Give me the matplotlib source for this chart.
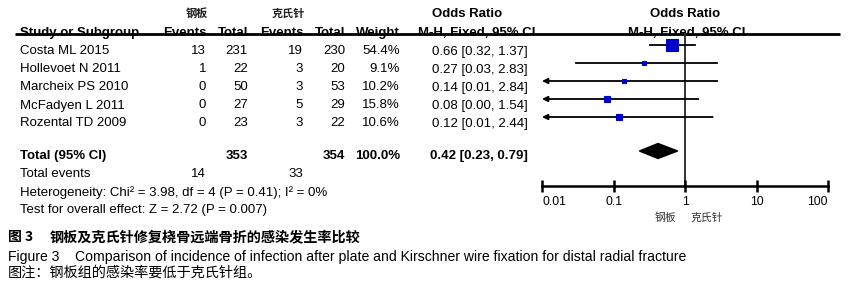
import numpy as np
import matplotlib
matplotlib.use('Agg')
import matplotlib.pyplot as plt
from matplotlib import font_manager
from matplotlib.font_manager import FontProperties
from matplotlib.ticker import NullLocator

studies = ['Costa ML 2015', 'Hollevoet N 2011', 'Marcheix PS 2010',
           'McFadyen L 2011', 'Rozental TD 2009']
plateEvents = [13, 1, 0, 0, 0]
plateTotal = [231, 22, 50, 27, 23]
wireEvents = [19, 3, 3, 5, 3]
wireTotal = [230, 20, 53, 29, 22]
weights = [54.4, 9.1, 10.2, 15.8, 10.6]
oddsRatio = [0.66, 0.27, 0.14, 0.08, 0.12]
ciLow = [0.32, 0.03, 0.01, 0.00, 0.01]
ciHigh = [1.37, 2.83, 2.84, 1.54, 2.44]

totalPlate = 353
totalWire = 354
totalPlateEvents = 14
totalWireEvents = 33
pooledOR = 0.42
pooledLow = 0.23
pooledHigh = 0.79

axisTicks = [0.01, 0.1, 1, 10, 100]
heterogeneity = 'Heterogeneity: Chi² = 3.98, df = 4 (P = 0.41); I² = 0%'
overallEffect = 'Test for overall effect: Z = 2.72 (P = 0.007)'

LAT = 'Liberation Sans'
CJK = 'Noto Sans CJK SC'


def have_font(name):
    try:
        font_manager.findfont(FontProperties(family=name),
                              fallback_to_default=False)
        return True
    except Exception:
        return False


narrow = have_font('Liberation Sans Narrow')

plt.rcParams['font.family'] = [LAT, CJK, 'DejaVu Sans']

W, H = 863, 298
fig = plt.figure(figsize=(W / 100, H / 100), dpi=100)
ax = fig.add_axes([0, 0, 1, 1])
ax.set_xlim(0, W)
ax.set_ylim(H, 0)
ax.axis('off')

fs = 9.5
blue = '#0000c8'

# header
ax.text(197, 13, '钢板', family=[CJK], fontsize=8, fontweight='bold',
        color='#222222', ha='center', va='center')
ax.text(288, 13, '克氏针', family=[CJK], fontsize=8, fontweight='bold',
        color='#222222', ha='center', va='center')
ax.text(467, 14, 'Odds Ratio', fontsize=fs, fontweight='bold',
        ha='center', va='center')
ax.text(685, 14, 'Odds Ratio', fontsize=fs, fontweight='bold',
        ha='center', va='center')

hb = 36
ax.text(20, hb, 'Study or Subgroup', fontsize=fs, fontweight='bold',
        va='baseline')
for x, s in [(206, 'Events'), (248, 'Total'), (303, 'Events'),
             (345, 'Total'), (400, 'Weight')]:
    ax.text(x, hb, s, fontsize=fs, fontweight='bold', ha='right',
            va='baseline')
ax.text(477, hb, 'M-H, Fixed, 95% CI', fontsize=fs, fontweight='bold',
        ha='center', va='baseline')
ax.text(687, hb, 'M-H, Fixed, 95% CI', fontsize=fs, fontweight='bold',
        ha='center', va='baseline')
ax.plot([15, 840], [33.5, 33.5], color='black', lw=2, zorder=5,
        solid_capstyle='butt')

# study rows
row0, step = 50.5, 18
for i, name in enumerate(studies):
    y = row0 + i * step + 1
    ax.text(20, y, name, fontsize=fs, va='center')
    ax.text(206, y, str(plateEvents[i]), fontsize=fs, ha='right', va='center')
    ax.text(248, y, str(plateTotal[i]), fontsize=fs, ha='right', va='center')
    ax.text(303, y, str(wireEvents[i]), fontsize=fs, ha='right', va='center')
    ax.text(345, y, str(wireTotal[i]), fontsize=fs, ha='right', va='center')
    ax.text(400, y, '{:.1f}%'.format(weights[i]), fontsize=fs, ha='right',
            va='center')
    ax.text(528, y, '{:.2f} [{:.2f}, {:.2f}]'.format(
        oddsRatio[i], ciLow[i], ciHigh[i]), fontsize=fs, ha='right',
        va='center')

# totals
ty = 156
ax.text(20, ty, 'Total (95% CI)', fontsize=fs, fontweight='bold', va='center')
ax.text(248, ty, str(totalPlate), fontsize=fs, fontweight='bold', ha='right',
        va='center')
ax.text(345, ty, str(totalWire), fontsize=fs, fontweight='bold', ha='right',
        va='center')
ax.text(400, ty, '100.0%', fontsize=fs, fontweight='bold', ha='right',
        va='center')
ax.text(528, ty, '{:.2f} [{:.2f}, {:.2f}]'.format(
    pooledOR, pooledLow, pooledHigh), fontsize=fs, fontweight='bold',
    ha='right', va='center')
ax.text(20, ty + 18, 'Total events', fontsize=fs, va='center')
ax.text(206, ty + 18, str(totalPlateEvents), fontsize=fs, ha='right',
        va='center')
ax.text(303, ty + 18, str(totalWireEvents), fontsize=fs, ha='right',
        va='center')
ax.text(20, ty + 36.5, heterogeneity, fontsize=fs, va='center')
ax.text(20, ty + 54, overallEffect, fontsize=fs, va='center')

# forest panel
lo, hi = axisTicks[0], axisTicks[-1]
fx = fig.add_axes([542 / W, 0, (828 - 542) / W, 1])
fx.set_xscale('log')
fx.set_xlim(lo, hi)
fx.set_ylim(H, 0)
fx.patch.set_alpha(0)
for side in ['top', 'left', 'right']:
    fx.spines[side].set_visible(False)
axisY = 186
fx.spines['bottom'].set_position(('data', axisY))
fx.spines['bottom'].set_linewidth(1.8)
fx.set_xticks(axisTicks)
fx.xaxis.set_minor_locator(NullLocator())
fx.set_xticklabels([])
fx.tick_params(axis='x', direction='inout', length=9, width=1.8)
fx.set_yticks([])
for k, t in enumerate(axisTicks):
    ha = 'center'
    if k == 0:
        ha = 'left'
    elif k == len(axisTicks) - 1:
        ha = 'right'
    fx.text(t, 202, str(t), fontsize=8.8, ha=ha, va='center')
ax.text(676, 218, '钢板', family=[CJK], fontsize=7.8, color='#333333',
        ha='right', va='center')
ax.text(691, 218, '克氏针', family=[CJK], fontsize=7.8, color='#333333',
        ha='left', va='center')

fx.plot([1, 1], [33.5, axisY], color='#333333', lw=1.4, zorder=1)

for i in range(len(studies)):
    y = row0 + i * step - 5.5
    left = max(ciLow[i], lo)
    if ciLow[i] <= lo:
        fx.annotate('', xy=(lo, y), xytext=(ciHigh[i], y),
                    arrowprops=dict(arrowstyle='-|>', lw=1.3, color='black',
                                    mutation_scale=8, shrinkA=0, shrinkB=0),
                    zorder=2)
    else:
        fx.plot([left, ciHigh[i]], [y, y], color='black', lw=1.3, zorder=2)
    size = 8.2 * np.sqrt(weights[i] / max(weights))
    fx.plot(oddsRatio[i], y, marker='s', markersize=size, color=blue,
            markeredgecolor=blue, markeredgewidth=0.8, zorder=3)

dy = 151
fx.fill([pooledLow, pooledOR, pooledHigh, pooledOR],
        [dy, dy - 7.5, dy, dy + 7.5], color='black', zorder=3)

# caption
ax.text(8, 237, '图 3', family=[CJK], fontsize=10, fontweight='bold',
        va='center')
ax.text(50, 237, '钢板及克氏针修复桡骨远端骨折的感染发生率比较', family=[CJK],
        fontsize=10.2, fontweight='bold', va='center')
if narrow:
    capFam, capFs = ['Liberation Sans Narrow'], 11
else:
    capFam, capFs = [LAT], 10.1
ax.text(8, 257, 'Figure 3', family=capFam, fontsize=capFs, va='center')
ax.text(75, 257, 'Comparison of incidence of infection after plate and '
        'Kirschner wire fixation for distal radial fracture',
        family=capFam, fontsize=capFs, va='center')
ax.text(8, 273, '图注：钢板组的感染率要低于克氏针组。', family=[CJK],
        fontsize=10.2, va='center')

fig.savefig('out.png', dpi=100)
